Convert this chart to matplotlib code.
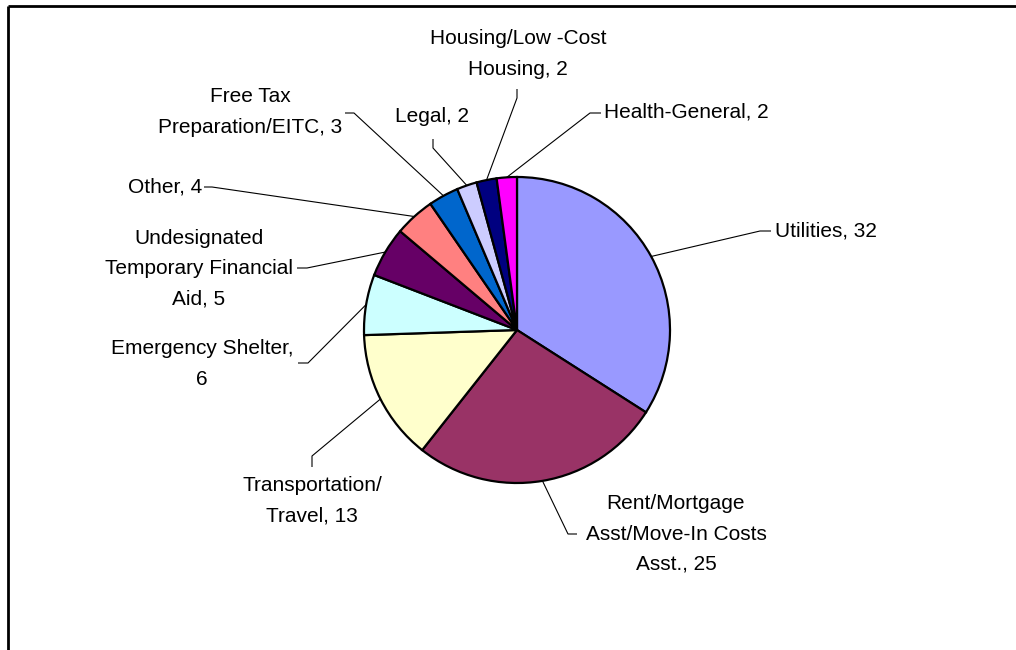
import numpy as np
import matplotlib
matplotlib.use("Agg")
import matplotlib.pyplot as plt

# Data
categories = ["Utilities", "Rent/Mortgage\nAsst/Move-In Costs\nAsst.", "Transportation/\nTravel",
              "Emergency Shelter,\n", "Undesignated\nTemporary Financial\nAid", "Other",
              "Free Tax\nPreparation/EITC", "Legal", "Housing/Low -Cost\nHousing", "Health-General"]
values = [32, 25, 13, 6, 5, 4, 3, 2, 2, 2]
colors = ["#9999FF", "#993366", "#FFFFCC", "#CCFFFF", "#660066",
          "#FF8080", "#0066CC", "#CCCCFF", "#000080", "#FF00FF"]

W, H = 1016, 650

def fy(y):
    # pixel row (top-down) -> data y (bottom-up)
    return H - y

# label layout: text anchor, alignment, elbow point, end of leader (pixel coords)
layout = [
    ((775, 231), "left",   (760, 231), (771, 231)),
    ((676, 534), "center", (568, 534), (577, 534)),
    ((312, 501), "center", (312, 456), (312, 467)),
    ((202, 364), "center", (308, 363), (298, 363)),
    ((199, 269), "center", (307, 268), (297, 268)),
    ((202, 187), "right",  (212, 187), (204, 187)),
    ((250, 112), "center", (354, 113), (345, 113)),
    ((432, 117), "center", (433, 148), (433, 139)),
    ((518, 54),  "center", (517, 98),  (517, 89)),
    ((604, 112), "left",   (590, 113), (601, 113)),
]

fig = plt.figure(figsize=(W / 100, H / 100), dpi=100)
ax = fig.add_axes([0, 0, 1, 1])

cx, cy, r = 517, fy(330), 153
wedges, _ = ax.pie(values, colors=colors, startangle=90, counterclock=False,
                   center=(cx, cy), radius=r,
                   wedgeprops=dict(edgecolor="black", linewidth=1.6))

for w, name, v, (txt, ha, elbow, end) in zip(wedges, categories, values, layout):
    mid = np.deg2rad((w.theta1 + w.theta2) / 2)
    x0, y0 = cx + r * np.cos(mid), cy + r * np.sin(mid)
    ax.plot([x0, elbow[0], end[0]], [y0, fy(elbow[1]), fy(end[1])],
            color="black", lw=0.8, solid_capstyle="butt")
    if name.endswith(",\n"):
        label = f"{name}{v}"
    else:
        label = f"{name}, {v}"
    ax.text(txt[0], fy(txt[1]), label, ha=ha, va="center", multialignment="center",
            fontsize=15, family="Liberation Sans", linespacing=1.75)

# chart frame (right and bottom edges fall outside the image)
ax.plot([8, W + 5], [fy(6), fy(6)], color="black", lw=2, solid_capstyle="butt")
ax.plot([8, 8], [fy(6), -5], color="black", lw=2, solid_capstyle="butt")

ax.set_xlim(0, W)
ax.set_ylim(0, H)
ax.set_aspect("equal")
ax.axis("off")

fig.savefig("out.png", dpi=100, facecolor="white")
